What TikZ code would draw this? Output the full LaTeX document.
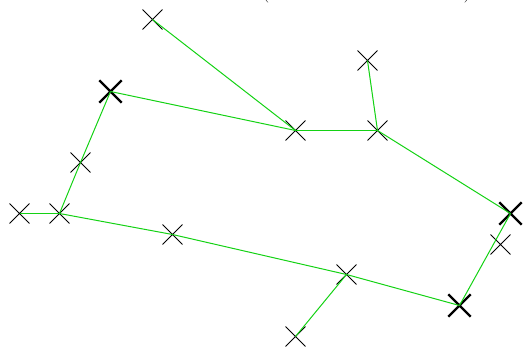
\documentclass[tikz,border=0pt]{standalone}
\usetikzlibrary{shapes.misc}
\definecolor{edgegreen}{RGB}{20,210,20}
\tikzset{
  star/.style={cross out, draw=black, line width=0.9pt, minimum size=19pt, inner sep=0pt},
  bright/.style={star, line width=2.4pt, minimum size=20pt},
  edge/.style={draw=edgegreen, line width=1pt},
  paren/.style={font=\fontsize{22}{24}\selectfont, anchor=base, inner sep=0pt}
}
\begin{document}
\begin{tikzpicture}[x=1pt,y=-1pt]
\useasboundingbox (0,0) rectangle (523,346);
\begin{scope}[shift={(0.5,0.5)}]
\node[paren] (pl) at (265,-3) {(};
\node[paren] (pr) at (467,-3) {)};
\node[star] (n1) at (152,19) {};
\node[bright] (n2) at (110,91) {};
\node[star] (n3) at (80,162) {};
\node[star] (n4) at (19,213) {};
\node[star] (n5) at (59,213) {};
\node[star] (n6) at (172,234) {};
\node[star] (n7) at (295,130) {};
\node[star] (n8) at (377,130) {};
\node[star] (n9) at (367,60) {};
\node[bright] (n10) at (510,213) {};
\node[star] (n11) at (500,244) {};
\node[bright] (n12) at (459,305) {};
\node[star] (n13) at (346,274) {};
\node[star] (n14) at (295,336) {};
\draw[edge] (n1.center) -- (n7.center);
\draw[edge] (n2.center) -- (n7.center);
\draw[edge] (n7.center) -- (n8.center);
\draw[edge] (n8.center) -- (n9.center);
\draw[edge] (n8.center) -- (n10.center);
\draw[edge] (n10.center) -- (n12.center);
\draw[edge] (n12.center) -- (n13.center);
\draw[edge] (n13.center) -- (n14.center);
\draw[edge] (n13.center) -- (n6.center);
\draw[edge] (n6.center) -- (n5.center);
\draw[edge] (n5.center) -- (n4.center);
\draw[edge] (n5.center) -- (n3.center);
\draw[edge] (n3.center) -- (n2.center);
\end{scope}
\end{tikzpicture}
\end{document}
